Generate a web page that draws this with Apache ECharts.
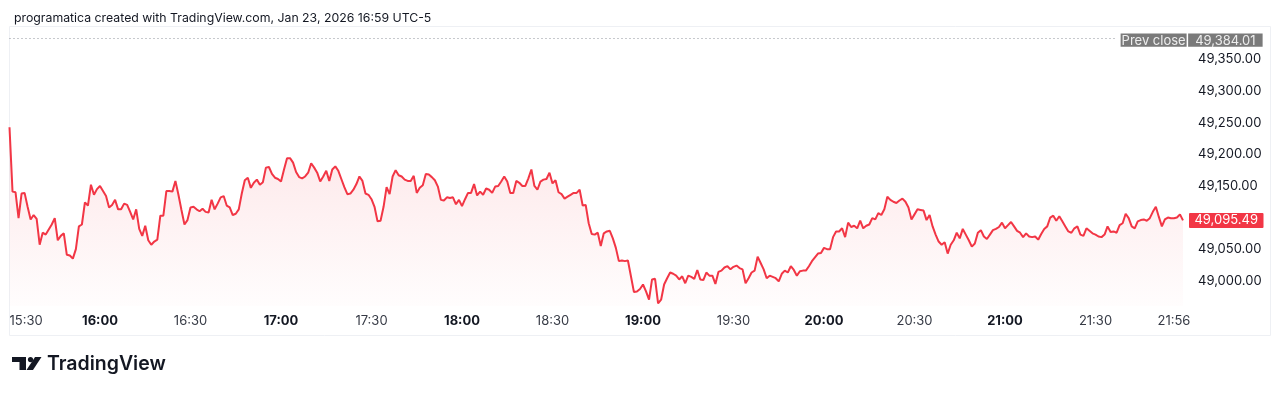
<!DOCTYPE html>
<html>
<head>
<meta charset="utf-8">
<script src="https://cdn.jsdelivr.net/npm/echarts@6/dist/echarts.min.js"></script>
<style>
  html, body { margin: 0; padding: 0; background: #ffffff; }
  #chart { width: 1280px; height: 394px; }
</style>
</head>
<body>
<div id="chart"></div>
<script>
// ---- Data (1-minute closes) ----
const startTime = '15:30';
const categoryCount = 391; // 15:30 .. 22:00

const prices1530 = [49243, 49141, 49140, 49099, 49138, 49139, 49117, 49097, 49104, 49098, 49057, 49076, 49073, 49081, 49089, 49099, 49064, 49071, 49075, 49041, 49040, 49035, 49050, 49086, 49089, 49124, 49119, 49152, 49136, 49145, 49150,
  49142, 49134, 49116, 49120, 49128, 49113, 49113, 49122, 49120, 49109, 49097, 49113, 49082, 49071, 49087, 49064, 49057, 49062, 49065, 49103, 49103, 49142, 49142, 49141, 49158, 49136, 49112, 49089, 49096, 49116, 49117, 49113, 49110, 49114, 49109, 49108, 49128, 49113, 49122, 49132, 49134, 49119, 49116, 49104, 49106, 49113, 49138, 49159, 49163, 49147, 49155, 49160, 49152, 49156, 49179, 49180, 49169, 49163, 49161, 49157, 49176, 49194, 49194, 49187, 49172, 49164];
const prices1707 = [49162, 49165, 49171, 49186, 49179, 49171, 49157, 49165, 49174, 49158, 49176, 49181, 49174, 49161, 49148, 49137, 49138, 49144, 49153, 49165, 49158, 49138, 49136, 49129, 49117, 49094, 49095, 49117, 49148, 49137, 49165, 49175, 49167, 49165, 49160, 49158, 49158, 49166, 49139, 49147, 49151, 49169, 49168, 49164, 49159, 49149, 49128, 49127, 49132, 49131, 49132, 49121, 49128, 49118, 49129, 49139, 49139, 49153, 49135, 49141, 49136, 49146, 49144, 49139, 49149];
const prices1812 = [49150, 49157, 49165, 49157, 49139, 49139, 49158, 49155, 49150, 49150, 49162, 49176, 49150, 49144, 49157, 49160, 49161, 49171, 49154, 49159, 49140, 49137, 49130, 49133, 49136, 49139, 49139, 49144, 49119, 49120, 49091, 49074, 49073, 49076, 49055, 49075, 49078, 49079, 49067, 49052, 49031, 49032, 49031, 49032, 49007, 48982, 48983, 48987, 48994, 48983, 48970, 49002, 49003, 48964, 48970, 48994, 49004, 49013, 49011, 49008, 49002, 49007, 48996, 49008];
const prices1916 = [49006, 49003, 49017, 49002, 49001, 49013, 49008, 49008, 48995, 49014, 49016, 49021, 49023, 49018, 49022, 49024, 49020, 49018, 48996, 49004, 49013, 49016, 49038, 49028, 49018, 49004, 49008, 49006, 49004, 48999, 49011, 49016, 49013, 49023, 49017, 49008, 49015, 49016, 49016, 49023, 49031, 49037, 49043, 49044, 49052, 49050, 49050, 49069, 49078, 49078, 49083, 49069, 49092, 49085, 49087, 49083, 49095, 49083, 49087, 49089, 49099, 49097, 49107, 49104, 49113];
const prices2021 = [49133, 49128, 49125, 49123, 49127, 49130, 49125, 49116, 49097, 49105, 49113, 49112, 49111, 49096, 49104, 49086, 49073, 49062, 49057, 49061, 49043, 49057, 49064, 49076, 49067, 49082, 49073, 49064, 49054, 49059, 49076, 49080, 49070, 49066, 49073, 49080, 49082, 49085, 49092, 49083, 49088, 49093, 49086, 49079, 49076, 49069, 49075, 49070, 49069, 49070, 49065, 49074, 49082, 49086, 49100, 49103, 49095, 49102, 49094, 49086, 49078, 49076, 49083, 49086, 49073];
const prices2126 = [49071, 49083, 49079, 49075, 49073, 49070, 49069, 49073, 49086, 49077, 49078, 49076, 49088, 49091, 49106, 49099, 49086, 49083, 49094, 49096, 49097, 49095, 49099, 49109, 49117, 49101, 49086, 49097, 49100, 49099, 49099, 49100, 49105, 49095.49];

const tickLabels = ['15:30', '16:00', '16:30', '17:00', '17:30', '18:00', '18:30', '19:00', '19:30', '20:00', '20:30', '21:00', '21:30', '21:56'];
const yTickValues = [49000, 49050, 49150, 49200, 49250, 49300, 49350];
const prevClose = 49384.01;
const lastPrice = 49095.49;
const prevCloseEndLabel = '21:37';

// ---- Build ----
const prices = [].concat(prices1530, prices1707, prices1812, prices1916, prices2021, prices2126);
const [sh, sm] = startTime.split(':').map(Number);
const categories = [];
for (let i = 0; i < categoryCount; i++) {
  const t = sh * 60 + sm + i;
  categories.push(String(Math.floor(t / 60)).padStart(2, '0') + ':' + String(t % 60).padStart(2, '0'));
}
const tickSet = new Set(tickLabels);
const fmt2 = v => v.toLocaleString('en-US', { minimumFractionDigits: 2, maximumFractionDigits: 2 });
const FONT = 'Inter, "Noto Sans", sans-serif';

const chart = echarts.init(document.getElementById('chart'), null, { renderer: 'canvas' });
chart.setOption({
  animation: false,
  backgroundColor: '#ffffff',
  textStyle: { fontFamily: FONT },
  title: {
    text: 'programatica created with TradingView.com, Jan 23, 2026 16:59 UTC-5',
    left: 9, top: 7,
    textStyle: { fontSize: 12.3, fontWeight: 'normal', color: '#131722', fontFamily: FONT }
  },
  grid: { left: 9.5, right: 94, top: 28, bottom: 88, containLabel: false },
  xAxis: {
    type: 'category',
    data: categories,
    boundaryGap: false,
    axisLine: { show: false },
    axisTick: { show: false },
    splitLine: { show: false },
    axisLabel: {
      interval: (idx, val) => tickSet.has(val),
      alignMinLabel: 'left',
      margin: 9,
      fontSize: 13,
      color: '#363a45',
      fontFamily: FONT,
      formatter: v => (v.endsWith(':00') ? '{b|' + v + '}' : v),
      rich: { b: { fontWeight: 'bold', color: '#131722', fontSize: 13, fontFamily: FONT } }
    }
  },
  yAxis: {
    type: 'value',
    position: 'right',
    min: 48960,
    max: 49400,
    axisLine: { show: false },
    axisTick: { show: false },
    splitLine: { show: false },
    axisLabel: {
      customValues: yTickValues,
      formatter: v => fmt2(v),
      margin: 12,
      fontSize: 13,
      color: '#131722',
      fontFamily: FONT
    }
  },
  series: [{
    type: 'line',
    data: prices,
    showSymbol: false,
    symbol: 'none',
    silent: true,
    lineStyle: { color: '#f23645', width: 2 },
    areaStyle: {
      origin: 'start',
      color: new echarts.graphic.LinearGradient(0, 0, 0, 1, [
        { offset: 0, color: 'rgba(242,54,69,0.18)' },
        { offset: 1, color: 'rgba(242,54,69,0.015)' }
      ])
    },
    markLine: {
      silent: true,
      symbol: ['none', 'none'],
      animation: false,
      data: [
        [
          {
            coord: [categories[0], prevClose],
            lineStyle: { color: '#8f929b', width: 1, type: [1, 3] },
            label: {
              show: true, position: 'end', distance: 4,
              offset: [0, 2],
              formatter: '{a|Prev close}{g|}{b|' + fmt2(prevClose) + '}',
              rich: {
                a: { backgroundColor: '#7a7a7a', color: '#eeeeee', fontSize: 13, fontFamily: FONT, width: 58, align: 'center', padding: [1, 4, 0, 4], height: 12.4, lineHeight: 12.4 },
                g: { width: 1.5, height: 12.4 },
                b: { backgroundColor: '#7a7a7a', color: '#eeeeee', fontSize: 13, fontFamily: FONT, width: 66.5, align: 'center', padding: [1, 4, 0, 4], height: 12.4, lineHeight: 12.4 }
              }
            }
          },
          { coord: [prevCloseEndLabel, prevClose] }
        ],
        {
          yAxis: lastPrice,
          lineStyle: { color: 'rgba(0,0,0,0)', width: 1 },
          label: {
            show: true, position: 'end', distance: 3,
            formatter: '{v|' + fmt2(lastPrice) + '}',
            rich: {
              v: { backgroundColor: '#f23645', color: '#ffffff', fontSize: 13, fontFamily: FONT, width: 66.5, align: 'center', padding: [1, 4, 1, 4], height: 13, lineHeight: 13, borderRadius: 1 }
            }
          }
        }
      ]
    }
  }],
  graphic: [
    { type: 'rect', silent: true, z: -1, shape: { x: 9.5, y: 26.5, width: 1261, height: 309 }, style: { fill: 'none', stroke: '#eef0f4', lineWidth: 1 } },
    { type: 'rect', silent: true, shape: { x: 12, y: 357, width: 14, height: 5 }, style: { fill: '#131722' } },
    { type: 'rect', silent: true, shape: { x: 19.5, y: 357, width: 6.5, height: 13 }, style: { fill: '#131722' } },
    { type: 'circle', silent: true, shape: { cx: 30.5, cy: 359.6, r: 2.6 }, style: { fill: '#131722' } },
    { type: 'polygon', silent: true, shape: { points: [[35, 357], [41.5, 357], [33, 370], [26.5, 370]] }, style: { fill: '#131722' } },
    { type: 'text', silent: true, x: 47, y: 364, style: { text: 'TradingView', font: '600 19.5px ' + FONT, fill: '#131722', textVerticalAlign: 'middle' } }
  ]
});
</script>
</body>
</html>
